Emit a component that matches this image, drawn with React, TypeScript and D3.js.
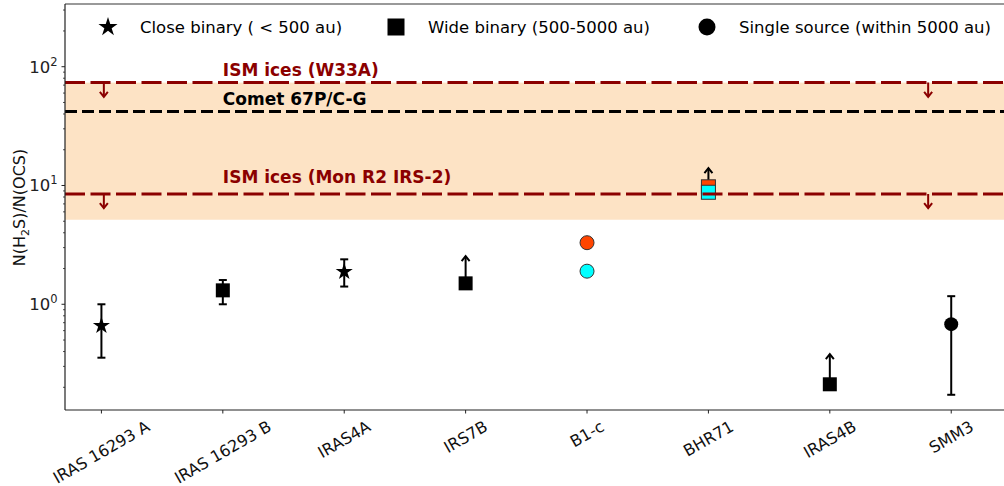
import React from 'react';
import * as d3 from 'd3';

// ---------- data ----------
const categories = ['IRAS 16293 A', 'IRAS 16293 B', 'IRAS4A', 'IRS7B', 'B1-c', 'BHR71', 'IRAS4B', 'SMM3'];

// detections with error bars
const errCats = ['IRAS 16293 A', 'IRAS 16293 B', 'IRAS4A', 'SMM3'];
const errValues = [0.66, 1.31, 1.88, 0.68];
const errLow = [0.355, 1.0, 1.41, 0.173];
const errHigh = [1.0, 1.6, 2.39, 1.17];
const errMarkers = ['star', 'square', 'star', 'circle'];

// lower limits (arrow up)
const limCats = ['IRS7B', 'IRAS4B', 'BHR71'];
const limValues = [1.5, 0.212, 9.75];
const limTips = [2.54, 0.38, 14.0];
const limFills = ['#000000', '#000000', '#ff4500'];

// coloured points without error bars
const colCats = ['BHR71', 'B1-c', 'B1-c'];
const colValues = [8.77, 3.3, 1.9];
const colMarkers = ['square', 'circle', 'circle'];
const colFills = ['#00ffff', '#ff4500', '#00ffff'];

// reference values
const bandRange = [5.15, 73.5];
const refLabels = ['ISM ices (W33A)', 'Comet 67P/C-G', 'ISM ices (Mon R2 IRS-2)'];
const refValues = [73.5, 42, 8.5];
const refColors = ['#8b0000', '#000000', '#8b0000'];
const refLabelValues = [83.5, 47.6, 10.4];
const refLabelX = 1.0;
// upper-limit arrows on the ISM lines
const iceArrowX = [0.02, 6.81];
const iceArrowLines = [73.5, 8.5];
const iceArrowTips = [55.6, 6.45];

const legendLabels = ['Close binary ( < 500 au)', 'Wide binary (500-5000 au)', 'Single source (within 5000 au)'];
const legendMarkers = ['star', 'square', 'circle'];

const yMajor = [1, 10, 100];
const yMajorExp = ['0', '1', '2'];

// ---------- helpers ----------
const FONT = 'DejaVu Sans, sans-serif';

function starPath(cx: number, cy: number, R: number) {
  const r = R * 0.382;
  const pts: string[] = [];
  for (let i = 0; i < 10; i++) {
    const a = -Math.PI / 2 + (i * Math.PI) / 5;
    const rr = i % 2 === 0 ? R : r;
    pts.push(`${(cx + rr * Math.cos(a)).toFixed(2)},${(cy + rr * Math.sin(a)).toFixed(2)}`);
  }
  return 'M' + pts.join('L') + 'Z';
}

function Marker({ kind, cx, cy, size, fill, stroke }: { kind: string; cx: number; cy: number; size: number; fill: string; stroke?: string }) {
  if (kind === 'star') return <path d={starPath(cx, cy, size * 0.53)} fill={fill} stroke={stroke || 'none'} />;
  if (kind === 'square')
    return <rect x={cx - size / 2} y={cy - size / 2} width={size} height={size} fill={fill} stroke={stroke || 'none'} strokeWidth={1} />;
  return <circle cx={cx} cy={cy} r={size / 2} fill={fill} stroke={stroke || 'none'} strokeWidth={1} />;
}

let measureCtx: CanvasRenderingContext2D | null = null;
function textWidth(s: string, font: string) {
  if (!measureCtx) measureCtx = document.createElement('canvas').getContext('2d');
  if (!measureCtx) return s.length * 9;
  measureCtx.font = font;
  return measureCtx.measureText(s).width;
}

export default function App() {
  const W = 1004;
  const H = 486;
  const left = 65;
  const top = 4;
  const bottom = 410;
  const x = d3.scaleLinear().domain([-0.3, 7.45]).range([left, left + 7.75 * 121.4]);
  const y = d3.scaleLog().domain([0.1288, 337.3]).range([bottom, top]);
  const right = x(7.45);
  const idx = (c: string) => categories.indexOf(c);

  // minor ticks
  const minor: number[] = [];
  for (const dec of [0.1, 1, 10, 100]) {
    for (let k = 2; k <= 9; k++) {
      const v = k * dec;
      if (v >= 0.1288 && v <= 337.3) minor.push(v);
    }
  }

  const tickFont = `16px ${FONT}`;

  return (
    <svg width={W} height={H} style={{ position: 'absolute', left: 0, top: 0, background: '#fff' }} fontFamily={FONT}>
      <defs>
        <clipPath id="plot">
          <rect x={left} y={top} width={right - left} height={bottom - top} />
        </clipPath>
      </defs>
      {/* shaded band */}
      <rect x={left} y={y(bandRange[1])} width={right - left} height={y(bandRange[0]) - y(bandRange[1])} fill="#fde3c5" />

      <g clipPath="url(#plot)">
        {/* error bars */}
        {errCats.map((c, i) => {
          const cx = x(idx(c));
          return (
            <g key={'e' + i} stroke="#000" strokeWidth={2}>
              <line x1={cx} x2={cx} y1={y(errLow[i])} y2={y(errHigh[i])} />
              <line x1={cx - 4} x2={cx + 4} y1={y(errLow[i])} y2={y(errLow[i])} />
              <line x1={cx - 4} x2={cx + 4} y1={y(errHigh[i])} y2={y(errHigh[i])} />
            </g>
          );
        })}
        {errCats.map((c, i) => (
          <Marker key={'em' + i} kind={errMarkers[i]} cx={x(idx(c))} cy={y(errValues[i])} size={errMarkers[i] === 'star' ? 17 : 14} fill="#000" />
        ))}

        {/* lower limit arrows */}
        {limCats.map((c, i) => {
          const cx = x(idx(c));
          const ty = y(limTips[i]);
          return (
            <g key={'l' + i} stroke="#000" strokeWidth={2} fill="none">
              <line x1={cx} x2={cx} y1={y(limValues[i])} y2={ty} />
              <path d={`M${cx - 4},${ty + 5}L${cx},${ty}L${cx + 4},${ty + 5}`} />
            </g>
          );
        })}
        {limCats.map((c, i) => (
          <Marker key={'lm' + i} kind="square" cx={x(idx(c))} cy={y(limValues[i])} size={14}
            fill={limFills[i]} stroke={limFills[i] === '#000000' ? undefined : '#333'} />
        ))}
        {colCats.map((c, i) => (
          <Marker key={'cm' + i} kind={colMarkers[i]} cx={x(idx(c))} cy={y(colValues[i])} size={14} fill={colFills[i]} stroke="#333" />
        ))}

        {/* reference lines */}
        {refValues.map((v, i) => (
          <line key={'r' + i} x1={left} x2={right} y1={y(v)} y2={y(v)} stroke={refColors[i]} strokeWidth={3}
            strokeDasharray={refColors[i] === '#000000' ? '12 5' : '20 5.5'} />
        ))}
        {iceArrowLines.map((v, j) =>
          iceArrowX.map((ax, i) => {
            const cx = x(ax);
            const ty = y(iceArrowTips[j]);
            return (
              <g key={'ia' + j + '_' + i} stroke="#8b0000" strokeWidth={2} fill="none">
                <line x1={cx} x2={cx} y1={y(v)} y2={ty} />
                <path d={`M${cx - 4},${ty - 5}L${cx},${ty}L${cx + 4},${ty - 5}`} />
              </g>
            );
          })
        )}
      </g>

      {/* annotations */}
      {refLabels.map((t, i) => (
        <text key={'rl' + i} x={x(refLabelX)} y={y(refLabelValues[i])} fontSize={17} fontWeight="bold" fill={refColors[i]}>
          {t}
        </text>
      ))}

      {/* legend */}
      {legendLabels.map((t, i) => {
        const mx = [108, 396, 707][i];
        return (
          <g key={'lg' + i}>
            <Marker kind={legendMarkers[i]} cx={mx} cy={27} size={legendMarkers[i] === 'star' ? 19 : 17} fill="#000" />
            <text x={mx + 32} y={33} fontSize={16.5} fill="#000">
              {t}
            </text>
          </g>
        );
      })}

      {/* axes */}
      <line x1={left} x2={right} y1={top} y2={top} stroke="#777" strokeWidth={1.5} />
      <line x1={left} x2={left} y1={top} y2={bottom} stroke="#222" strokeWidth={1.2} />
      <line x1={left} x2={right} y1={bottom} y2={bottom} stroke="#222" strokeWidth={1.2} />
      {yMajor.map((v, i) => (
        <g key={'ym' + i}>
          <line x1={left - 3.5} x2={left} y1={y(v)} y2={y(v)} stroke="#222" strokeWidth={1} />
          <text x={left - 7.5} y={y(v) + 6} fontSize={16.5} textAnchor="end" fill="#222">
            10<tspan dy={-7} fontSize={11.5}>{yMajorExp[i]}</tspan>
          </text>
        </g>
      ))}
      {minor.map((v, i) => (
        <line key={'yn' + i} x1={left - 2} x2={left} y1={y(v)} y2={y(v)} stroke="#222" strokeWidth={0.8} />
      ))}
      {categories.map((c, i) => {
        const cx = x(i);
        const w = textWidth(c, tickFont);
        const cy = bottom + 7 + (w * 0.5 + 18.6 * 0.866) / 2;
        return (
          <g key={'xt' + i}>
            <line x1={cx} x2={cx} y1={bottom} y2={bottom + 3.5} stroke="#222" strokeWidth={1} />
            <text transform={`translate(${cx},${cy}) rotate(-30)`} textAnchor="middle" dominantBaseline="central" fontSize={16} fill="#111">
              {c}
            </text>
          </g>
        );
      })}
      <text transform="translate(24.5,207.5) rotate(-90)" textAnchor="middle" fontSize={16} fill="#111">
        N(H<tspan dy={4} fontSize={11}>2</tspan><tspan dy={-4}>S)/N(OCS)</tspan>
      </text>
    </svg>
  );
}
